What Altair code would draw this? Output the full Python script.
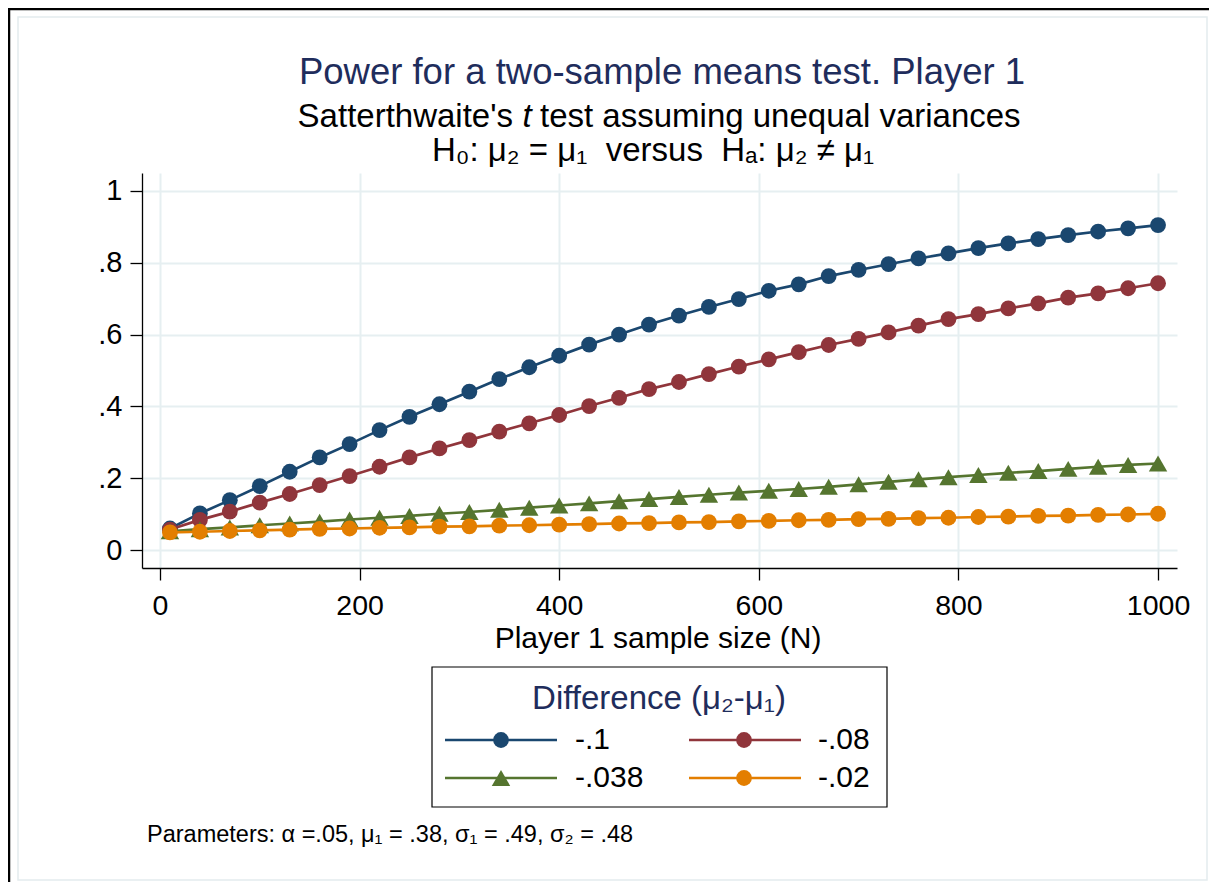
import altair as alt
import pandas as pd

# ---------------- data ----------------
N = [10, 40, 70, 100, 130, 160, 190, 220, 250, 280, 310, 340, 370, 400, 430, 460, 490,
     520, 550, 580, 610, 640, 670, 700, 730, 760, 790, 820, 850, 880, 910, 940, 970, 1000]

power_d100 = [0.060, 0.102, 0.139, 0.178, 0.218, 0.258, 0.295, 0.334, 0.371, 0.406, 0.441, 0.476,
              0.509, 0.541, 0.572, 0.600, 0.628, 0.653, 0.677, 0.699, 0.722, 0.740, 0.763, 0.780,
              0.796, 0.812, 0.826, 0.841, 0.854, 0.866, 0.877, 0.887, 0.896, 0.905]
power_d080 = [0.057, 0.084, 0.107, 0.132, 0.156, 0.181, 0.206, 0.232, 0.258, 0.283, 0.306, 0.330,
              0.353, 0.376, 0.401, 0.424, 0.448, 0.468, 0.490, 0.511, 0.531, 0.551, 0.571, 0.588,
              0.606, 0.625, 0.643, 0.657, 0.673, 0.687, 0.703, 0.715, 0.729, 0.743]
power_d038 = [0.052, 0.058, 0.063, 0.069, 0.074, 0.079, 0.085, 0.090, 0.095, 0.101, 0.106, 0.112,
              0.118, 0.124, 0.130, 0.136, 0.142, 0.148, 0.154, 0.160, 0.165, 0.170, 0.176, 0.183,
              0.190, 0.197, 0.203, 0.209, 0.215, 0.220, 0.226, 0.232, 0.237, 0.241]
power_d020 = [0.049, 0.051, 0.053, 0.055, 0.057, 0.059, 0.060, 0.062, 0.063, 0.065, 0.066, 0.068,
              0.069, 0.071, 0.072, 0.074, 0.075, 0.077, 0.078, 0.080, 0.081, 0.083, 0.084, 0.086,
              0.087, 0.089, 0.090, 0.092, 0.093, 0.095, 0.096, 0.098, 0.099, 0.101]

series_labels = ["-.1", "-.08", "-.038", "-.02"]
series_values = [power_d100, power_d080, power_d038, power_d020]
series_colors = ["#1a476f", "#90353b", "#55752f", "#e37e00"]
series_shapes = ["circle", "circle", "triangle-up", "circle"]

x_ticks = [0, 200, 400, 600, 800, 1000]
y_ticks = [0, 0.2, 0.4, 0.6, 0.8, 1.0]
y_tick_labels = ["0", ".2", ".4", ".6", ".8", "1"]

NB = "\u00a0"
title_text = "Power for a two-sample means test. Player 1"
sub_a = "Satterthwaite's"
sub_t = "t"
sub_b = "test assuming unequal variances"
hyp_text = ("H\u2080: \u03bc\u2082 = \u03bc\u2081" + NB + NB + "versus" + NB + NB +
            "H\u2090: \u03bc\u2082 \u2260 \u03bc\u2081")
x_title = "Player 1 sample size (N)"
legend_title = "Difference (\u03bc\u2082-\u03bc\u2081)"
note_text = "Parameters: \u03b1 =.05, \u03bc\u2081 = .38, \u03c3\u2081 = .49, \u03c3\u2082 = .48"

# ---------------- layout ----------------
FONT = "Liberation Sans"
NAVY = "#1f2d5c"
GRID = "#e6eff1"
W, H = 1035, 395
PAD = {"left": 134, "top": 165, "right": 32, "bottom": 314}
OX, OY = 8 + PAD["left"], 8 + PAD["top"]   # page position of plot origin
CIRCLE, TRI = 250, 340


def px(X):
    return X - OX


def py(Y):
    return Y - OY


rows = []
for lab, vals in zip(series_labels, series_values):
    for n, p in zip(N, vals):
        rows.append({"N": n, "power": p, "diff": lab})
df = pd.DataFrame(rows)

ylabel_expr = " : ".join(
    f"datum.value == {v} ? '{t}'" for v, t in zip(y_ticks, y_tick_labels)) + " : ''"

x_enc = alt.X("N:Q", scale=alt.Scale(domain=[-18, 1019], nice=False, zero=False),
              axis=alt.Axis(values=x_ticks, title=None, grid=True, gridColor=GRID, gridWidth=2,
                            domainColor="black", domainWidth=1.3, tickColor="black",
                            tickWidth=1.3, tickSize=12, labelFontSize=28.5, labelFont=FONT,
                            labelColor="black", labelPadding=11, labelFlush=False,
                            format="d"))
y_enc = alt.Y("power:Q", scale=alt.Scale(domain=[-0.05, 1.05], nice=False, zero=False),
              axis=alt.Axis(values=y_ticks, title=None, grid=True, gridColor=GRID, gridWidth=2,
                            domainColor="black", domainWidth=1.3, tickColor="black",
                            tickWidth=1.3, tickSize=12, labelFontSize=29, labelFont=FONT,
                            labelColor="black", labelPadding=8, labelExpr=ylabel_expr,
                            labelFlush=False))

one = alt.Data(values=[{"k": 1}])

layers = []
# outer frames
layers.append(alt.Chart(one).mark_rect(fillOpacity=0, stroke="#e4ecee", strokeWidth=1.5).encode(
    x=alt.value(px(18)), x2=alt.value(px(1207)), y=alt.value(py(17)), y2=alt.value(py(880))))
layers.append(alt.Chart(one).mark_rule(color="black", strokeWidth=2.5).encode(
    x=alt.value(px(8)), x2=alt.value(px(1209)), y=alt.value(py(9))))
layers.append(alt.Chart(one).mark_rule(color="black", strokeWidth=2.5).encode(
    x=alt.value(px(9)), y=alt.value(py(8)), y2=alt.value(py(882))))

# series
for lab, col, shp in zip(series_labels, series_colors, series_shapes):
    base = alt.Chart(df).transform_filter(alt.datum.diff == lab)
    layers.append(base.mark_line(color=col, strokeWidth=2.7).encode(x=x_enc, y=y_enc))
    size = TRI if shp == "triangle-up" else CIRCLE
    layers.append(base.mark_point(filled=True, shape=shp, size=size, color=col, opacity=1)
                  .encode(x=x_enc, y=y_enc))


def text(s, X, Y, size, color="black", align="center", style="normal"):
    return alt.Chart(one).mark_text(
        text=s, font=FONT, fontSize=size, color=color, align=align, baseline="middle",
        fontStyle=style).encode(x=alt.value(px(X)), y=alt.value(py(Y)))


layers.append(text(title_text, 662, 73, 36.5, NAVY))
layers.append(text(sub_a, 513, 117, 33, align="right"))
layers.append(text(sub_t, 527, 117, 33, style="italic"))
layers.append(text(sub_b, 540, 117, 33, align="left"))
layers.append(text(hyp_text, 653, 151, 33))
layers.append(text(x_title, 658, 639, 30))
layers.append(text(note_text, 147, 835, 23.5, align="left"))

# legend (box, title, keys)
layers.append(alt.Chart(one).mark_rect(fillOpacity=0, stroke="black", strokeWidth=1.2).encode(
    x=alt.value(px(432)), x2=alt.value(px(887)), y=alt.value(py(667)), y2=alt.value(py(807))))
layers.append(text(legend_title, 659, 699, 33, NAVY))

leg_rows = []
for i, (lab, col, shp) in enumerate(zip(series_labels, series_colors, series_shapes)):
    c, r = i % 2, i // 2
    leg_rows.append({"lab": lab, "col": col, "shp": shp,
                     "x1": px(445 + 244 * c), "x2": px(557 + 244 * c),
                     "xm": px(501 + 243 * c), "xt": px(575 + 243 * c),
                     "y": py(740 + 38 * r),
                     "sz": TRI if shp == "triangle-up" else CIRCLE})
leg = alt.Chart(pd.DataFrame(leg_rows))
layers.append(leg.mark_rule(strokeWidth=2.7).encode(
    x=alt.X("x1:Q", scale=None), x2="x2:Q", y=alt.Y("y:Q", scale=None),
    color=alt.Color("col:N", scale=None)))
layers.append(leg.mark_point(filled=True, opacity=1).encode(
    x=alt.X("xm:Q", scale=None), y=alt.Y("y:Q", scale=None),
    color=alt.Color("col:N", scale=None), shape=alt.Shape("shp:N", scale=None),
    size=alt.Size("sz:Q", scale=None)))
layers.append(leg.mark_text(font=FONT, fontSize=30, align="left", baseline="middle",
                            color="black").encode(
    x=alt.X("xt:Q", scale=None), y=alt.Y("y:Q", scale=None), text="lab:N"))

chart = alt.layer(*layers).properties(
    width=W, height=H, padding=PAD, autosize=alt.AutoSizeParams(type="none"),
    background="white"
).configure_view(strokeWidth=0)

chart.save("out.html", embed_options={"renderer": "svg", "actions": False})
